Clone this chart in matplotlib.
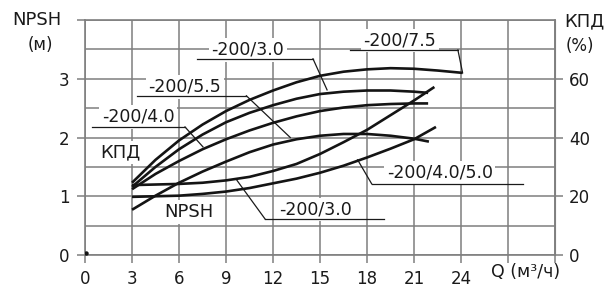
import numpy as np
import matplotlib
matplotlib.use("Agg")
import matplotlib.pyplot as plt

plt.rcParams['font.family'] = ['DejaVu Sans']

# Кривые КПД (левая шкала 0..4 соответствует 0..80 %)
q_a = [3, 4.5, 6, 7.5, 9, 10.5, 12, 13.5, 15, 16.5, 18, 19.5, 21, 22.5, 24.1]
eff_a = [1.23, 1.62, 1.95, 2.22, 2.45, 2.64, 2.80, 2.94, 3.05, 3.12, 3.16, 3.18, 3.17, 3.14, 3.10]

q_b = [3, 4.5, 6, 7.5, 9, 10.5, 12, 13.5, 15, 16.5, 18, 19.5, 21, 21.9]
eff_b = [1.16, 1.50, 1.80, 2.05, 2.26, 2.42, 2.55, 2.66, 2.74, 2.78, 2.80, 2.80, 2.78, 2.76]

q_c = [3, 4.5, 6, 7.5, 9, 10.5, 12, 13.5, 15, 16.5, 18, 19.5, 21, 21.9]
eff_c = [1.12, 1.38, 1.60, 1.80, 1.97, 2.12, 2.25, 2.36, 2.45, 2.51, 2.55, 2.57, 2.58, 2.58]

q_d = [3, 4.5, 6, 7.5, 9, 10.5, 12, 13.5, 15, 16.5, 18, 19.5, 21, 21.95]
eff_d = [0.77, 1.01, 1.23, 1.42, 1.59, 1.75, 1.88, 1.97, 2.03, 2.06, 2.06, 2.03, 1.98, 1.93]

# Кривые NPSH
q_e = [3, 4.5, 6, 7.5, 9, 10.5, 12, 13.5, 15, 16.5, 18, 19.5, 21, 22.3]
npsh_e = [1.19, 1.20, 1.21, 1.23, 1.27, 1.33, 1.43, 1.55, 1.72, 1.92, 2.13, 2.38, 2.63, 2.86]

q_f = [3, 4.5, 6, 7.5, 9, 10.5, 12, 13.5, 15, 16.5, 18, 19.5, 21, 22.4]
npsh_f = [0.99, 1.00, 1.01, 1.04, 1.08, 1.14, 1.22, 1.30, 1.40, 1.52, 1.66, 1.81, 1.97, 2.18]

x_ticks = [0, 3, 6, 9, 12, 15, 18, 21, 24, 27, 30]
x_labels = ['0', '3', '6', '9', '12', '15', '18', '21', '24', '', '']
y_ticks = [0, 1, 2, 3, 4]
y_labels = ['0', '1', '2', '3', '']
eff_ticks = [0, 20, 40, 60]

# подписи: текст, центр текста, линия подчёркивания (x1, x2, y), выноска (x от, x до, y до)
labels = [
    ('-200/7.5', (20.1, 3.65), (16.9, 23.8, 3.49), (23.8, 24.1, 3.10)),
    ('-200/3.0', (10.4, 3.49), (7.15, 14.55, 3.34), (14.55, 15.45, 2.81)),
    ('-200/5.5', (6.38, 2.86), (3.3, 10.3, 2.71), (10.3, 13.1, 2.00)),
    ('-200/4.0', (3.38, 2.35), (0.45, 6.38, 2.18), (6.38, 7.53, 1.84)),
    ('-200/3.0', (14.74, 0.77), (11.5, 19.1, 0.61), (11.5, 9.7, 1.27)),
    ('-200/4.0/5.0', (22.65, 1.40), (18.3, 27.95, 1.21), (18.3, 17.4, 1.62)),
]

grid_c = '#7f7f7f'
ink = '#1a1a1a'

fig = plt.figure(figsize=(6.06, 2.89), dpi=100)
ax = fig.add_axes([0.1403, 0.1176, 0.7756, 0.8132])
ax.set_xlim(0, 30)
ax.set_ylim(0, 4)

ax.set_xticks(x_ticks)
ax.set_xticklabels(x_labels)
ax.set_yticks(y_ticks)
ax.set_yticklabels(y_labels)
ax.set_yticks(np.arange(0.5, 4, 1.0), minor=True)
ax.tick_params(which='minor', length=0)
ax.tick_params(which='major', direction='out', length=6, width=1.1, color=grid_c,
               labelsize=12, labelcolor=ink, pad=5)
ax.grid(True, which='both', color=grid_c, linewidth=1.1, zorder=0)
ax.set_axisbelow(True)
for s in ax.spines.values():
    s.set_color(grid_c)
    s.set_linewidth(1.2)

sec = ax.secondary_yaxis('right', functions=(lambda v: v * 20, lambda p: p / 20))
sec.set_yticks(eff_ticks)
sec.tick_params(direction='out', length=6, width=1.1, color=grid_c, labelsize=12,
                labelcolor=ink, pad=4)
sec.spines['right'].set_color(grid_c)

curve_kw = dict(color='#141414', linewidth=1.9, solid_capstyle='butt', zorder=5)
ax.plot(q_a, eff_a, **curve_kw)
ax.plot(q_b, eff_b, **curve_kw)
ax.plot(q_c, eff_c, **curve_kw)
ax.plot(q_d, eff_d, **curve_kw)
ax.plot(q_e, npsh_e, **curve_kw)
ax.plot(q_f, npsh_f, **curve_kw)
ax.plot([0.06], [0.03], 'o', color='#141414', markersize=2.2, zorder=5)

box = dict(boxstyle='square,pad=0.15', facecolor='white', edgecolor='none')
for txt, (tx, ty), (u1, u2, uy), (l1, l2, ly) in labels:
    ax.text(tx, ty, txt, ha='center', va='center', fontsize=12.5, color=ink,
            bbox=box, zorder=3, clip_on=False)
    ax.plot([u1, u2], [uy, uy], color=ink, linewidth=0.9, zorder=4)
    ax.plot([l1, l2], [uy, ly], color=ink, linewidth=0.9, zorder=4)

ax.text(2.23, 1.74, 'КПД', ha='center', va='center', fontsize=13, color=ink, bbox=box, zorder=3)
ax.text(6.6, 0.73, 'NPSH', ha='center', va='center', fontsize=13, color=ink, bbox=box, zorder=3)

fig.text(37 / 606, 1 - 20 / 289, 'NPSH', ha='center', va='center', fontsize=13, color=ink)
fig.text(40 / 606, 1 - 45 / 289, '(м)', ha='center', va='center', fontsize=12, color=ink)
fig.text(584 / 606, 1 - 21 / 289, 'КПД', ha='center', va='center', fontsize=13, color=ink)
fig.text(580 / 606, 1 - 46 / 289, '(%)', ha='center', va='center', fontsize=12, color=ink)
fig.text(526 / 606, 1 - 272 / 289, 'Q (м³/ч)', ha='center', va='center', fontsize=12.5, color=ink)

fig.savefig('out.png', dpi=100)
